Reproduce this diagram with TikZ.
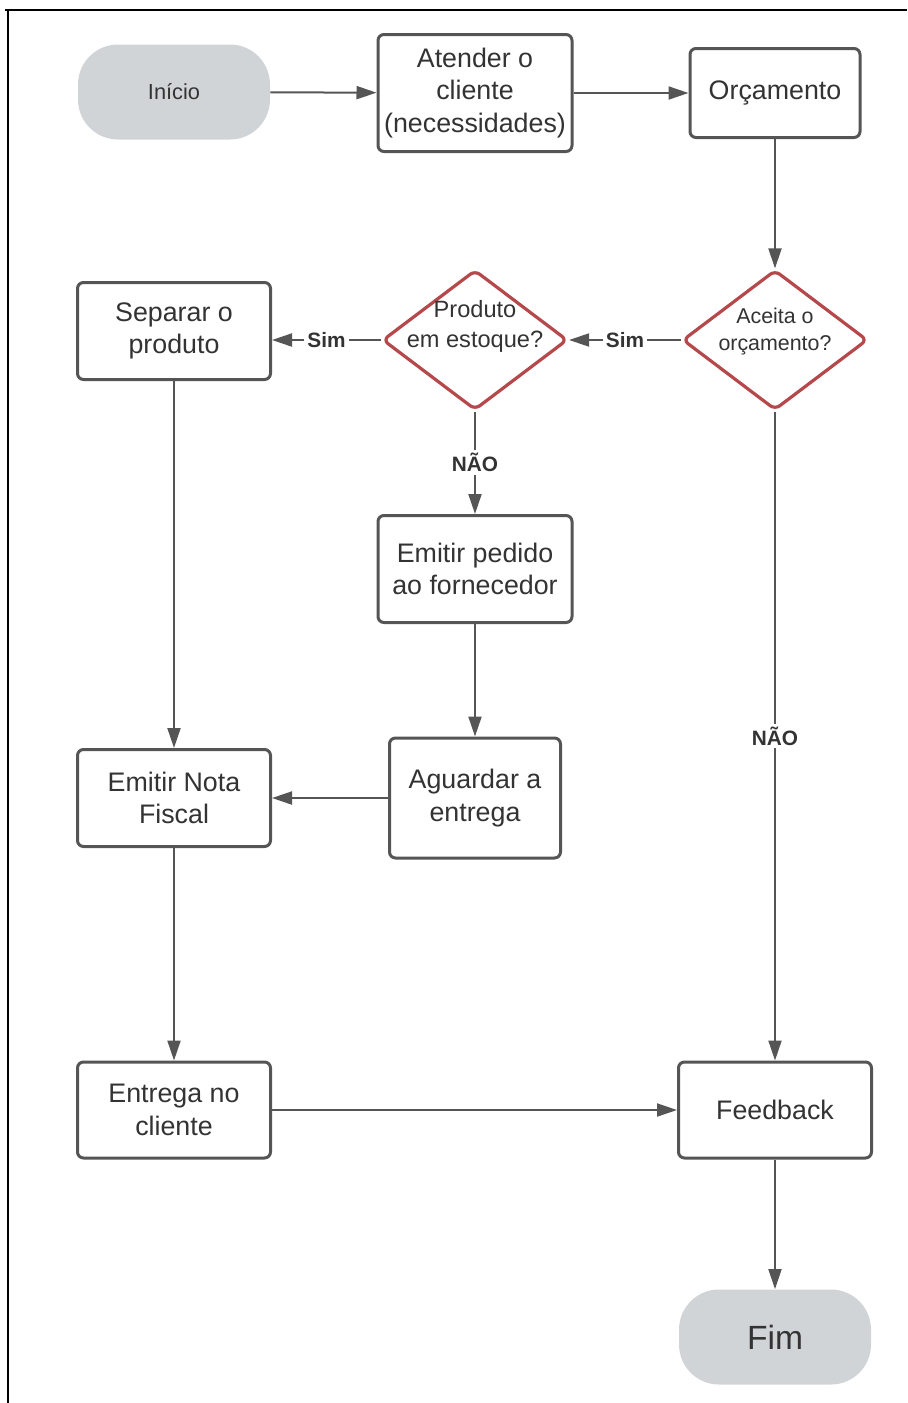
\documentclass[tikz,border=0pt]{standalone}
\usepackage{fontspec}
\setmainfont{Liberation Sans}
\usepackage{xcolor}
\usepackage{tikz}
\usetikzlibrary{shapes.geometric,arrows.meta}
\definecolor{lineGray}{HTML}{555555}
\definecolor{textGray}{HTML}{333333}
\definecolor{termFill}{HTML}{D1D4D6}
\definecolor{decRed}{HTML}{B5484B}
\tikzset{
    procbox/.style={draw=lineGray, fill=white, rounded corners=3pt,
                    line width=1.5pt, text=textGray, align=center,
                    font=\fontsize{13.4}{16.2}\selectfont, inner sep=0pt},
    terminal/.style={fill=termFill, rounded corners=20pt, text=textGray,
                     align=center, minimum width=96pt, minimum height=47.5pt},
    decision/.style={diamond, draw=decRed, fill=white, line width=1.6pt,
                     rounded corners=3pt, minimum width=92.5pt,
                     minimum height=70pt, inner sep=0pt},
    dectext/.style={text=textGray, align=center, inner sep=0pt},
    flow/.style={-{Triangle[length=10pt,width=6.5pt]}, draw=lineGray,
                 line width=1pt},
    flowlbl/.style={fill=white, text=textGray, inner sep=1.5pt,
                    font=\bfseries\fontsize{10.4}{12}\selectfont},
}

\begin{document}
\begin{tikzpicture}[x=0.5pt,y=-0.5pt]
\useasboundingbox (0,0) rectangle (907,1403);

% frame (top and left edge only)
\draw[black, line width=1.3pt] (5,10) -- (907,10);
\draw[black, line width=1.3pt] (8,10) -- (8,1403);

% ---------------- TOP ROW ----------------
\node[terminal, font=\fontsize{10.9}{13}\selectfont] (inicio) at (174,92) {Início};
\node[procbox, minimum width=97pt, minimum height=58.5pt] (atender) at (475,93)
     {Atender o\\cliente\\(necessidades)};
\node[procbox, minimum width=85pt, minimum height=44.5pt] (orcamento) at (775,93)
     {Orçamento};

% ---------------- DECISIONS ----------------
\node[decision, label={[dectext, yshift=4pt, font=\fontsize{10.7}{13.5}\selectfont]center:Aceita o\\orçamento?}]
     (aceita) at (775,340) {};
\node[decision, label={[dectext, yshift=7pt, font=\fontsize{11.8}{15}\selectfont]center:Produto\\em estoque?}]
     (estoque) at (475,340) {};
\node[procbox, minimum width=96.5pt, minimum height=48.5pt] (separar) at (174,331)
     {Separar o\\produto};

% ---------------- MIDDLE ----------------
\node[procbox, minimum width=97pt, minimum height=53.5pt] (pedido) at (475,569)
     {Emitir pedido\\ao fornecedor};
\node[procbox, minimum width=85.5pt, minimum height=60pt] (aguardar) at (475,798)
     {Aguardar a\\entrega};
\node[procbox, minimum width=96.5pt, minimum height=48.5pt] (nota) at (174,798)
     {Emitir Nota\\Fiscal};

% ---------------- BOTTOM ----------------
\node[procbox, minimum width=96.5pt, minimum height=48pt] (entrega) at (174,1110)
     {Entrega no\\cliente};
\node[procbox, minimum width=96.5pt, minimum height=48pt] (feedback) at (775,1110)
     {Feedback};
\node[terminal, font=\fontsize{16.8}{20}\selectfont] (fim) at (775,1337) {Fim};

% ---------------- CONNECTORS ----------------
\draw[flow] (inicio) -- (atender);
\draw[flow] (atender) -- (orcamento);
\draw[flow] (orcamento) -- (aceita);
% sim branches
\draw[flow] (aceita) -- (estoque) node[flowlbl, midway] {Sim};
\draw[flow] (estoque) -- (estoque -| separar.east) node[flowlbl, midway] {Sim};
% nao branches
\draw[flow] (estoque) -- (pedido) node[flowlbl, midway] {NÃO};
\draw[flow] (aceita) -- (feedback) node[flowlbl, midway] {NÃO};
\draw[flow] (pedido) -- (aguardar);
\draw[flow] (aguardar) -- (nota);
\draw[flow] (separar) -- (nota);
\draw[flow] (nota) -- (entrega);
\draw[flow] (entrega) -- (feedback);
\draw[flow] (feedback) -- (fim);

\end{tikzpicture}
\end{document}
